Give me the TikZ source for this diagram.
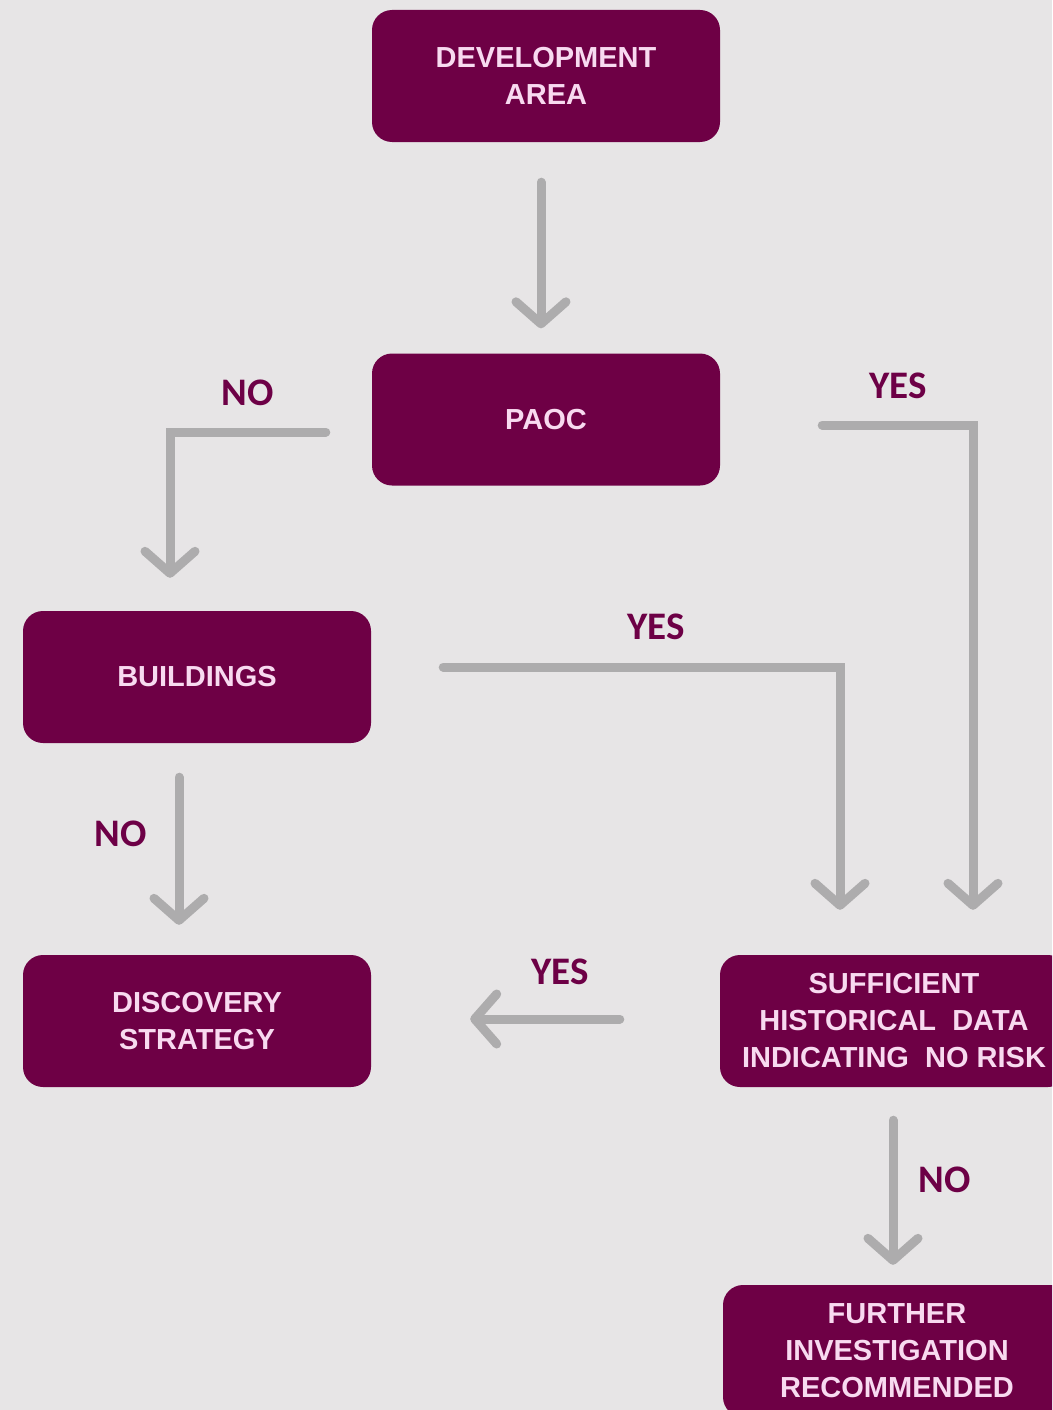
\documentclass[tikz,border=0pt]{standalone}
\usepackage{fontspec}
\setmainfont{Liberation Sans}
\newfontfamily\labelfont{Carlito}
\usetikzlibrary{arrows.meta,calc}
\definecolor{bgc}{HTML}{E7E5E6}
\definecolor{boxc}{HTML}{6E0045}
\definecolor{boxtxt}{HTML}{F8DAF0}
\definecolor{arrc}{HTML}{ADACAD}
\definecolor{labc}{HTML}{6D0046}
\tikzset{
  stepbox/.style={fill=boxc, rounded corners=20pt, minimum width=348pt, minimum height=132pt,
    inner sep=0pt, align=center, text=boxtxt,
    font=\fontsize{29pt}{37pt}\selectfont\bfseries},
  conn/.style={draw=arrc, line width=9pt, line cap=round,
    -{Straight Barb[length=22pt,width=50pt,round]}},
  lbl/.style={text=labc, font=\labelfont\fontsize{39pt}{44pt}\selectfont\bfseries, inner sep=0pt}
}
\begin{document}
\begin{tikzpicture}[x=1pt,y=-1pt]
\fill[bgc] (0,0) rectangle (1052,1410);
\useasboundingbox (0,0) rectangle (1052,1410);
\clip (0,0) rectangle (1052,1410);
\node[stepbox] (dev) at (546,76) {DEVELOPMENT\\AREA};
\node[stepbox] (paoc) at (546,419.5) {PAOC};
\node[stepbox] (bld) at (197,677) {BUILDINGS};
\node[stepbox] (disc) at (197,1021) {DISCOVERY\\STRATEGY};
\node[stepbox] (suff) at (894,1021) {SUFFICIENT\\HISTORICAL\ \ DATA\\INDICATING\ \ NO RISK};
\node[stepbox] (fur) at (897,1351) {FURTHER\\INVESTIGATION\\RECOMMENDED};

\draw[conn] ($(dev.south)+(-5,40)$) -- ($(paoc.north)+(-5,-25)$);
\draw[conn] ($(paoc.west)+(-46,12.5)$) -| ($(bld.north)+(-27,-33)$);
\draw[conn] ($(paoc.east)+(102,5.5)$) -| ($(suff.north)+(79,-45)$);
\draw[conn] ($(bld.east)+(72,-10)$) -| ($(suff.north)+(-54,-45)$);
\draw[conn] ($(bld.south)+(-18,34)$) -- ($(disc.north)+(-18,-30)$);
\draw[conn] ($(suff.west)+(-100,-2)$) -- ($(disc.east)+(99,-2)$);
\draw[conn] ($(suff.south)+(-1,33)$) -- ($(fur.north)+(-4,-20)$);

\node[lbl] (l1) at (248,393) {NO};
\node[lbl] (l2) at (898,386) {YES};
\node[lbl] (l3) at (656,627) {YES};
\node[lbl] (l4) at (121,834) {NO};
\node[lbl] (l5) at (560,972) {YES};
\node[lbl] (l6) at (945,1180) {NO};
\end{tikzpicture}
\end{document}
